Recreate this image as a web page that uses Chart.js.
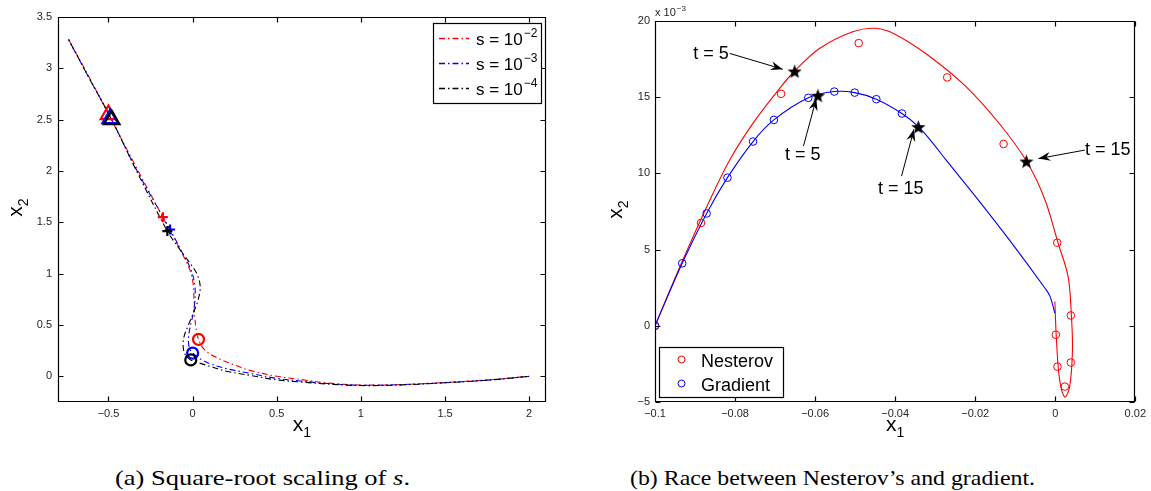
<!DOCTYPE html>
<html>
<head>
<meta charset="utf-8">
<script src="https://cdn.jsdelivr.net/npm/chart.js@4"></script>
<style>
body { margin: 0; background: #fff; width: 1151px; height: 491px; overflow: hidden; position: relative; }
canvas { position: absolute; top: 0; }
#chartA { left: 0; }
#chartB { left: 575px; }
.caption { position: absolute; top: 467px; font-family: 'Liberation Serif', 'DejaVu Serif', serif; font-size: 22px; line-height: 22px; white-space: nowrap; transform-origin: 0 0; color: #000; }
</style>
</head>
<body>
<canvas id="chartA" width="575" height="440"></canvas>
<canvas id="chartB" width="576" height="440"></canvas>
<div class="caption" data-w="295" style="left:115px">(a) Square-root scaling of <i>s</i>.</div>
<div class="caption" data-w="405" style="left:630px">(b) Race between Nesterov’s and gradient.</div>

<script>
// --- Daten (a): Trajektorien für s = 10^-2, 10^-3, 10^-4 ---
const sExp = ["−2", "−3", "−4"];
const redX = [-0.737, -0.62, -0.505, -0.33, -0.177, -0.07, -0.015, 0.003, 0.008, 0.012, 0.02, 0.035, 0.07, 0.14, 0.25, 0.34, 0.5, 0.64, 0.8, 1.0, 1.25, 1.5, 1.75, 2.0];
const redY = [3.28, 2.93, 2.57, 2.02, 1.55, 1.22, 1.03, 0.9, 0.75, 0.6, 0.47, 0.36, 0.26, 0.185, 0.11, 0.058, 0.0, -0.03, -0.065, -0.085, -0.08, -0.06, -0.035, 0.0];
const blueX = [-0.737, -0.62, -0.49, -0.33, -0.134, -0.06, -0.01, 0.012, 0.015, 0.005, -0.015, -0.025, -0.018, 0.0, 0.05, 0.104, 0.2, 0.34, 0.5, 0.64, 0.8, 1.0, 1.25, 1.5, 1.75, 2.0];
const blueY = [3.28, 2.92, 2.53, 2.0, 1.43, 1.2, 1.04, 0.9, 0.78, 0.62, 0.48, 0.36, 0.27, 0.227, 0.165, 0.123, 0.075, 0.03, -0.02, -0.045, -0.07, -0.087, -0.08, -0.062, -0.037, 0.0];
const blackX = [-0.737, -0.62, -0.481, -0.33, -0.15, -0.06, -0.01, 0.025, 0.045, 0.035, 0.01, -0.025, -0.052, -0.055, -0.04, -0.011, 0.03, 0.084, 0.2, 0.34, 0.5, 0.64, 0.8, 1.0, 1.25, 1.5, 1.75, 2.0];
const blackY = [3.28, 2.92, 2.5, 1.99, 1.415, 1.2, 1.09, 1.0, 0.88, 0.76, 0.64, 0.5, 0.38, 0.27, 0.2, 0.16, 0.135, 0.107, 0.05, 0.01, -0.035, -0.055, -0.075, -0.09, -0.083, -0.063, -0.038, 0.0];
// Markierungen (Dreieck, Plus, Kreis)
const redMarkX = [-0.5, -0.177, 0.035];
const redMarkY = [2.55, 1.55, 0.36];
const blueMarkX = [-0.49, -0.134, 0.0];
const blueMarkY = [2.51, 1.43, 0.227];
const blackMarkX = [-0.481, -0.15, -0.011];
const blackMarkY = [2.5, 1.415, 0.16];
const xTicksA = [-0.5, 0, 0.5, 1, 1.5, 2];
const yTicksA = [0, 0.5, 1, 1.5, 2, 2.5, 3, 3.5];

// --- Daten (b): Nesterov vs. Gradient (y in 10^-3) ---
const nesX = [-0.1, -0.093, -0.0862, -0.0813, -0.0755, -0.0688, -0.0651, -0.0589, -0.0506, -0.0448, -0.0398, -0.0316, -0.0225, -0.0142, -0.0072, -0.0026, 0.0007, 0.0032, 0.004, 0.0043, 0.0036, 0.0024, 0.0011, 0.0003, -0.0001];
const nesY = [0, 4.35, 8.3, 10.9, 13.3, 15.6, 16.72, 18.2, 19.3, 19.52, 19.1, 17.72, 15.74, 13.34, 10.81, 8.29, 5.44, 3.24, 0.83, -1.58, -3.99, -4.67, -3.55, -0.92, 1.6];
const gradX = [-0.1, -0.0932, -0.0871, -0.0819, -0.0755, -0.0703, -0.0617, -0.0552, -0.0501, -0.0447, -0.0383, -0.0342, -0.0308, -0.0274, -0.0192, -0.0109, -0.0026, -0.0013, -0.0001];
const gradY = [0, 4.1, 7.37, 9.72, 12.09, 13.51, 14.96, 15.37, 15.3, 14.87, 13.93, 13.07, 12.05, 10.92, 8.25, 5.44, 2.48, 1.93, 0.83];
const nesMarkX = [-0.1, -0.0885, -0.0685, -0.0491, -0.027, -0.0129, 0.0005, 0.0039, 0.0039, 0.0024, 0.00055, 0.00015];
const nesMarkY = [0, 6.75, 15.22, 18.55, 16.3, 11.93, 5.45, 0.68, -2.41, -3.99, -2.68, -0.59];
const gradMarkX = [-0.1, -0.0932, -0.0871, -0.0819, -0.0755, -0.0703, -0.0617, -0.0552, -0.0501, -0.0447, -0.0383];
const gradMarkY = [0, 4.1, 7.37, 9.72, 12.09, 13.51, 14.96, 15.37, 15.3, 14.87, 13.93];
const starX = [-0.0651, -0.0593, -0.0342, -0.0072];
const starY = [16.72, 15.13, 13.07, 10.81];
// Beschriftungen mit Pfeilen: Text, Textmitte, Pfeilanfang, Pfeilspitze
const annText = ["t = 5", "t = 5", "t = 15", "t = 15"];
const annTextX = [-0.086, -0.0631, -0.0386, 0.0131];
const annTextY = [17.9, 11.25, 9.06, 11.58];
const annTailX = [-0.0813, -0.0629, -0.0384, 0.0074];
const annTailY = [17.87, 11.8, 9.82, 11.53];
const annTipX = [-0.0681, -0.0597, -0.0353, -0.0042];
const annTipY = [16.84, 14.91, 12.89, 10.97];
const xTicksB = [-0.1, -0.08, -0.06, -0.04, -0.02, 0, 0.02];
const yTicksB = [-5, 0, 5, 10, 15, 20];

// --- Helfer ---
const SANS = "'Liberation Sans', Arial, Helvetica, sans-serif";
Chart.defaults.font.family = SANS;
Chart.defaults.animation = false;
Chart.defaults.events = [];

const pts = (xs, ys) => xs.map((x, i) => ({ x: x, y: ys[i] }));
const fmt = v => String(v).replace("-", "\u2212");
const DASHDOT = [6, 3, 1.5, 3];

function axis(min, max, ticks, pad, fit) {
    return {
        type: "linear",
        min: min,
        max: max,
        grid: { display: false, drawTicks: false },
        border: { display: false },
        afterBuildTicks: s => { s.ticks = ticks.map(v => ({ value: v })); },
        afterFit: fit,
        ticks: { callback: v => fmt(v), padding: pad, color: "#262626", font: { size: 11 }, autoSkip: false, maxRotation: 0 },
    };
}

// MATLAB-Rahmen mit Ticks nach innen
const matlabBox = {
    id: "matlabBox",
    afterDatasetsDraw(chart) {
        const { ctx, chartArea: a, scales } = chart;
        const L = Math.round(a.left) + 0.5, R = Math.round(a.right) - 0.5;
        const T = Math.round(a.top) + 0.5, B = Math.round(a.bottom) - 0.5;
        ctx.save();
        ctx.strokeStyle = "#000";
        ctx.lineWidth = 1.2;
        ctx.beginPath();
        ctx.rect(L, T, R - L, B - T);
        scales.x.ticks.forEach(t => {
            const p = Math.round(scales.x.getPixelForValue(t.value)) + 0.5;
            ctx.moveTo(p, B); ctx.lineTo(p, B - 5);
            ctx.moveTo(p, T); ctx.lineTo(p, T + 5);
        });
        scales.y.ticks.forEach(t => {
            const p = Math.round(scales.y.getPixelForValue(t.value)) + 0.5;
            ctx.moveTo(L, p); ctx.lineTo(L + 5, p);
            ctx.moveTo(R, p); ctx.lineTo(R - 5, p);
        });
        ctx.stroke();
        ctx.restore();
    },
};

function drawSub(ctx, base, sub, x, y, size) {
    ctx.font = size + "px " + SANS;
    const wb = ctx.measureText(base).width;
    ctx.font = Math.round(size * 0.68) + "px " + SANS;
    const ws = ctx.measureText(sub).width;
    const x0 = x - (wb + ws) / 2;
    ctx.textAlign = "left";
    ctx.textBaseline = "alphabetic";
    ctx.font = size + "px " + SANS;
    ctx.fillText(base, x0, y);
    ctx.font = Math.round(size * 0.68) + "px " + SANS;
    ctx.fillText(sub, x0 + wb, y + size * 0.3);
}

function drawSup(ctx, base, sup, x, y, size) {
    ctx.textAlign = "left";
    ctx.textBaseline = "alphabetic";
    ctx.font = size + "px " + SANS;
    ctx.fillText(base, x, y);
    const wb = ctx.measureText(base).width;
    ctx.font = Math.round(size * 0.7) + "px " + SANS;
    ctx.fillText(sup, x + wb + 1, y - size * 0.45);
}

function axisTitles(yTitleX) {
    return {
        id: "axisTitles",
        afterDraw(chart) {
            const { ctx, chartArea: a } = chart;
            ctx.save();
            ctx.fillStyle = "#000";
            drawSub(ctx, "x", "1", (a.left + a.right) / 2, 431, 21);
            ctx.translate(yTitleX, (a.top + a.bottom) / 2 - 2);
            ctx.rotate(-Math.PI / 2);
            drawSub(ctx, "x", "2", 0, 0, 21);
            ctx.restore();
        },
    };
}

const colorsA = ["#ff0000", "#0000ff", "#000000"];

const legendA = {
    id: "legendA",
    afterDraw(chart) {
        const ctx = chart.ctx;
        const bx = 433, by = 23, bw = 108, bh = 80;
        ctx.save();
        ctx.fillStyle = "#fff";
        ctx.fillRect(bx, by, bw, bh);
        ctx.strokeStyle = "#000";
        ctx.lineWidth = 1.2;
        ctx.strokeRect(bx + 0.5, by + 0.5, bw, bh);
        sExp.forEach((e, i) => {
            const y = by + 15.5 + i * 25;
            ctx.strokeStyle = colorsA[i];
            ctx.lineWidth = 1.3;
            ctx.setLineDash(DASHDOT);
            ctx.beginPath();
            ctx.moveTo(439, y); ctx.lineTo(469, y);
            ctx.stroke();
            ctx.setLineDash([]);
            ctx.fillStyle = "#000";
            drawSup(ctx, "s = 10", e, 476, y + 6, 17);
        });
        ctx.restore();
    },
};

// --- Diagramm (a) ---
new Chart(document.getElementById("chartA"), {
    type: "scatter",
    data: {
        datasets: [
            { data: pts(redX, redY), showLine: true, borderColor: colorsA[0], borderWidth: 1.1, borderDash: DASHDOT, borderDashOffset: 0, pointRadius: 0, tension: 0.35, order: 6 },
            { data: pts(blueX, blueY), showLine: true, borderColor: colorsA[1], borderWidth: 1.1, borderDash: DASHDOT, borderDashOffset: 4.5, pointRadius: 0, tension: 0.35, order: 5 },
            { data: pts(blackX, blackY), showLine: true, borderColor: colorsA[2], borderWidth: 1.1, borderDash: DASHDOT, borderDashOffset: 9, pointRadius: 0, tension: 0.35, order: 4 },
            { data: pts(redMarkX, redMarkY), pointStyle: ["triangle", "cross", "circle"], pointRadius: [9, 5, 5.5], pointBorderWidth: 2.2, pointBorderColor: colorsA[0], pointBackgroundColor: "rgba(0,0,0,0)", order: 3 },
            { data: pts(blueMarkX, blueMarkY), pointStyle: ["triangle", "cross", "circle"], pointRadius: [9, 5, 5.5], pointBorderWidth: 2.2, pointBorderColor: colorsA[1], pointBackgroundColor: "rgba(0,0,0,0)", order: 2 },
            { data: pts(blackMarkX, blackMarkY), pointStyle: ["triangle", "cross", "circle"], pointRadius: [9, 5, 5.5], pointBorderWidth: 2.2, pointBorderColor: colorsA[2], pointBackgroundColor: "rgba(0,0,0,0)", order: 1 },
        ],
    },
    options: {
        responsive: false,
        layout: { padding: { left: 0, top: 17, right: 29, bottom: 18 } },
        plugins: { legend: { display: false }, tooltip: { enabled: false } },
        scales: {
            x: axis(-0.8, 2.1, xTicksA, 5, s => { s.height = 20; }),
            y: axis(-0.25, 3.5, yTicksA, 6, s => { s.width = 58; }),
        },
    },
    plugins: [matlabBox, axisTitles(22), legendA],
});

// --- Diagramm (b) ---
function makeStar(size) {
    const c = document.createElement("canvas");
    c.width = c.height = size;
    const g = c.getContext("2d");
    const R = size / 2, r = R * 0.42;
    g.beginPath();
    for (let i = 0; i < 10; i++) {
        const ang = -Math.PI / 2 + i * Math.PI / 5;
        const rad = i % 2 ? r : R;
        g.lineTo(size / 2 + rad * Math.cos(ang), size / 2 + 1 + rad * Math.sin(ang));
    }
    g.closePath();
    g.fillStyle = "#000";
    g.fill();
    return c;
}
const starImg = makeStar(15);

function arrow(ctx, x1, y1, x2, y2) {
    ctx.beginPath();
    ctx.moveTo(x1, y1);
    ctx.lineTo(x2, y2);
    ctx.stroke();
    const ang = Math.atan2(y2 - y1, x2 - x1);
    ctx.save();
    ctx.translate(x2, y2);
    ctx.rotate(ang);
    ctx.beginPath();
    ctx.moveTo(0, 0);
    ctx.lineTo(-12, -4.5);
    ctx.lineTo(-8, 0);
    ctx.lineTo(-12, 4.5);
    ctx.closePath();
    ctx.fill();
    ctx.restore();
}

const annotB = {
    id: "annotB",
    afterDraw(chart) {
        const { ctx, scales: { x, y } } = chart;
        ctx.save();
        ctx.fillStyle = "#000";
        ctx.strokeStyle = "#000";
        ctx.lineWidth = 1;
        ctx.font = "18px " + SANS;
        ctx.textAlign = "center";
        ctx.textBaseline = "middle";
        annText.forEach((t, i) => {
            ctx.fillText(t, x.getPixelForValue(annTextX[i]), y.getPixelForValue(annTextY[i]) + 1);
            arrow(ctx, x.getPixelForValue(annTailX[i]), y.getPixelForValue(annTailY[i]),
                x.getPixelForValue(annTipX[i]), y.getPixelForValue(annTipY[i]));
        });
        // Exponent der y-Achse
        ctx.fillStyle = "#262626";
        drawSup(ctx, "x 10", "−3", chart.chartArea.left, 16, 11);
        ctx.restore();
    },
};

const legendB = {
    id: "legendB",
    afterDraw(chart) {
        const ctx = chart.ctx;
        const bx = 84, by = 347, bw = 124, bh = 50;
        const items = [["Nesterov", "#ff0000"], ["Gradient", "#0000ff"]];
        ctx.save();
        ctx.fillStyle = "#fff";
        ctx.fillRect(bx, by, bw, bh);
        ctx.strokeStyle = "#000";
        ctx.lineWidth = 1.2;
        ctx.strokeRect(bx + 0.5, by + 0.5, bw, bh);
        items.forEach((it, i) => {
            const y = by + 12.5 + i * 24;
            ctx.strokeStyle = it[1];
            ctx.lineWidth = 1;
            ctx.beginPath();
            ctx.arc(bx + 22.5, y, 3.5, 0, Math.PI * 2);
            ctx.stroke();
            ctx.fillStyle = "#000";
            ctx.font = "18px " + SANS;
            ctx.textAlign = "left";
            ctx.textBaseline = "alphabetic";
            ctx.fillText(it[0], bx + 42, y + 7);
        });
        ctx.restore();
    },
};

new Chart(document.getElementById("chartB"), {
    type: "scatter",
    data: {
        datasets: [
            { label: "Nesterov", data: pts(nesX, nesY), showLine: true, borderColor: "#ff0000", borderWidth: 1.1, pointRadius: 0, tension: 0.35, order: 5 },
            { label: "Gradient", data: pts(gradX, gradY), showLine: true, borderColor: "#0000ff", borderWidth: 1.1, pointRadius: 0, tension: 0.35, order: 4 },
            { data: pts(nesMarkX, nesMarkY), pointStyle: "circle", pointRadius: 3.8, pointBorderWidth: 1, pointBorderColor: "#ff0000", pointBackgroundColor: "rgba(0,0,0,0)", order: 3 },
            { data: pts(gradMarkX, gradMarkY), pointStyle: "circle", pointRadius: 3.8, pointBorderWidth: 1, pointBorderColor: "#0000ff", pointBackgroundColor: "rgba(0,0,0,0)", order: 2 },
            { data: pts(starX, starY), pointStyle: starImg, pointRadius: 7, order: 0 },
        ],
    },
    options: {
        responsive: false,
        layout: { padding: { left: 0, top: 21, right: 13, bottom: 18 } },
        plugins: { legend: { display: false }, tooltip: { enabled: false } },
        scales: {
            x: axis(-0.1, 0.02, xTicksB, 5, s => { s.height = 20; }),
            y: axis(-5, 20, yTicksB, 5, s => { s.width = 80; }),
        },
    },
    plugins: [matlabBox, axisTitles(47), annotB, legendB],
});

// Bildunterschriften auf Breite bringen
document.querySelectorAll(".caption").forEach(el => {
    const w = el.getBoundingClientRect().width;
    el.style.transform = "scaleX(" + (el.dataset.w / w) + ")";
});
</script>
</body>
</html>
